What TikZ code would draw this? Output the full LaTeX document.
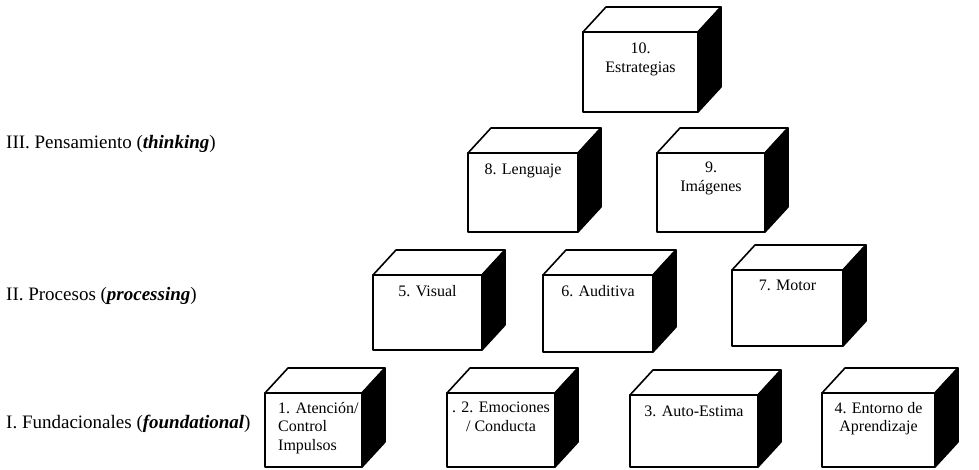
\documentclass[tikz,border=0pt]{standalone}
\usepackage{fontspec}
\setmainfont{Liberation Serif}
\begin{document}
\begin{tikzpicture}[x=1pt,y=1pt,
  face/.style={draw, line width=1.6pt, fill=white, inner sep=0pt, outer sep=0pt, line join=round},
  topface/.style={draw, line width=1.6pt, fill=white, line join=round},
  sideface/.style={draw, line width=1.6pt, fill=black, line join=round},
  boxtext/.style={font=\fontsize{16}{18.5}\selectfont, align=center, inner sep=0pt},
  leveltext/.style={font=\fontsize{19}{22}\selectfont, inner sep=0pt, anchor=base west}]
\useasboundingbox (0,0) rectangle (979,469);
% depth of every box
\def\dx{23}\def\dy{25}
% #1 name, #2 left, #3 top, #4 right, #5 bottom (measured from the top edge)
\newcommand\cubebox[5]{%
  \node[face, anchor=north west, minimum width={(#4-#2)*1pt}, minimum height={(#5-#3)*1pt}]
    (#1) at (#2,{469-#3}) {};
  \filldraw[topface] (#1.north west) -- ++(\dx,\dy) -- ([shift={(\dx,\dy)}]#1.north east)
    -- (#1.north east) -- cycle;
  \filldraw[sideface] (#1.north east) -- ++(\dx,\dy) -- ([shift={(\dx,\dy)}]#1.south east)
    -- (#1.south east) -- cycle;
}

% level III
\cubebox{b10}{583}{32}{698}{112}
\cubebox{b8}{468}{153}{578}{232}
\cubebox{b9}{657}{153}{765}{232}
% level II
\cubebox{b5}{373}{275}{482}{350}
\cubebox{b6}{543}{275}{653}{352}
\cubebox{b7}{732}{270}{843}{346}
% level I
\cubebox{b1}{265}{393}{362}{467}
\cubebox{b2}{447}{393}{555}{467}
\cubebox{b3}{630}{395}{758}{467}
\cubebox{b4}{822}{393}{935}{467}

% box labels
\node[boxtext, anchor=north] (t10) at ([yshift=-11pt]b10.north) {10.\\Estrategias};
\node[boxtext, anchor=north] (t8) at ([yshift=-11pt]b8.north) {8. Lenguaje};
\node[boxtext, anchor=north] (t9) at ([yshift=-9pt]b9.north) {9.\\Imágenes};
\node[boxtext, anchor=north] (t5) at ([yshift=-10pt]b5.north) {5. Visual};
\node[boxtext, anchor=north] (t6) at ([yshift=-10pt]b6.north) {6. Auditiva};
\node[boxtext, anchor=north] (t7) at ([yshift=-10pt]b7.north) {7. Motor};
\node[boxtext, align=left, anchor=north west] (t1) at ([shift={(13pt,-9pt)}]b1.north west)
  {1. Atención/\\Control\\Impulsos};
\node[boxtext, anchor=north] (t2) at ([yshift=-9pt]b2.north) {. 2. Emociones\\/ Conducta};
\node[boxtext, anchor=north] (t3) at ([yshift=-11pt]b3.north) {3. Auto-Estima};
\node[boxtext, anchor=north] (t4) at ([yshift=-9pt]b4.north) {4. Entorno de\\Aprendizaje};

% level names
\node[leveltext] (l3) at (6,{469-149}) {III. Pensamiento (\textbf{\textit{thinking}})};
\node[leveltext] (l2) at (6,{469-300}) {II. Procesos (\textbf{\textit{processing}})};
\node[leveltext] (l1) at (6,{469-428}) {I. Fundacionales (\textbf{\textit{foundational}})};
\end{tikzpicture}
\end{document}
